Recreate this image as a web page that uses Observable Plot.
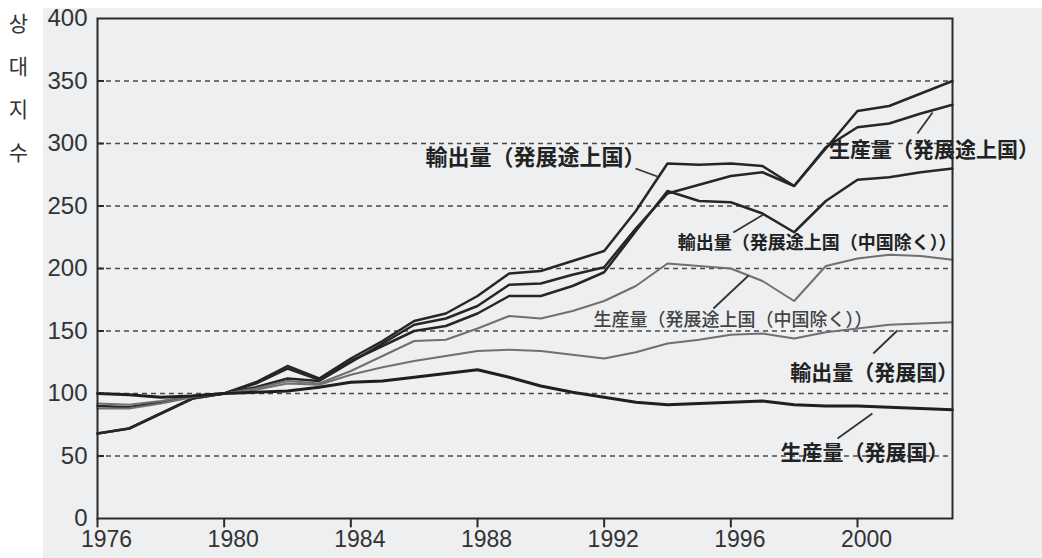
<!DOCTYPE html>
<html>
<head>
<meta charset="utf-8">
<script src="https://cdn.jsdelivr.net/npm/d3@7"></script>
<script src="https://cdn.jsdelivr.net/npm/@observablehq/plot@0.6"></script>
<style>
  html, body { margin: 0; padding: 0; background: #ffffff; }
  #wrap { position: relative; width: 1042px; height: 558px; overflow: hidden; }
  #scan { position: absolute; left: 43px; top: 8px; right: 0; bottom: 0; background: #edeff1; }
  #chart { position: absolute; left: 0; top: 0; }
</style>
</head>
<body>
<div id="wrap"><div id="scan"></div><div id="chart"></div></div>
<script>
// ---- data (relative index, 1980 = 100) ----
const years = [1976,1977,1978,1979,1980,1981,1982,1983,1984,1985,1986,1987,1988,1989,
               1990,1991,1992,1993,1994,1995,1996,1997,1998,1999,2000,2001,2002,2003];

const exportDeveloping =        [68,72,84,96,100,109,122,112,128,142,158,164,178,196,198,206,214,246,284,283,284,282,266,296,326,330,340,350];
const productionDeveloping =    [90,89,93,98,100,105,112,110,125,140,155,160,170,187,188,195,201,232,260,267,274,277,266,297,313,316,324,331];
const exportDevelopingExChina = [68,72,84,96,100,108,120,111,126,138,150,154,164,178,178,186,197,230,262,254,253,244,229,254,271,273,277,280];
const productionDevExChina =    [88,88,92,97,100,104,110,108,118,130,142,143,152,162,160,166,174,186,204,202,200,190,174,202,208,211,210,207];
const exportDeveloped =         [92,91,94,98,100,103,108,107,115,121,126,130,134,135,134,131,128,133,140,143,147,148,144,149,152,155,156,157];
const productionDeveloped =     [100,99,97,98,100,101,102,105,109,110,113,116,119,113,106,101,97,93,91,92,93,94,91,90,90,89,88,87];

const xTicks = [1976,1980,1984,1988,1992,1996,2000];
const yTicks = [0,50,100,150,200,250,300,350,400];
const yTitle = "상\n대\n지\n수";

const seriesNames = [
  "輸出量（発展途上国）",
  "生産量（発展途上国）",
  "輸出量（発展途上国（中国除く））",
  "生産量（発展途上国（中国除く））",
  "輸出量（発展国）",
  "生産量（発展国）"
];
const seriesValues = [exportDeveloping, productionDeveloping, exportDevelopingExChina,
                      productionDevExChina, exportDeveloped, productionDeveloped];

// annotation anchors (data units) for labels and their leader lines
const labelText = seriesNames;
const labelYear  = [1986.36, 1999.1, 1994.32, 1991.66, 1997.88, 1997.57];
const labelValue = [288.8, 294.4, 220, 158.4, 116, 52];
const leaderFrom = [[1992.99,280],[2001.89,308],[1996.08,228.8],[1995.45,168],[2000.5,132],[1999.37,64]];
const leaderTo   = [[1993.68,273.6],[2002.37,324.8],[1997.03,243.2],[1996.56,194.4],[2001.26,150.4],[2000.47,84]];

// ---- styles ----
const styleFor = [
  {stroke: "#262626", w: 2.5},
  {stroke: "#262626", w: 2.5},
  {stroke: "#262626", w: 2.5},
  {stroke: "#707070", w: 2.0},
  {stroke: "#707070", w: 2.0},
  {stroke: "#1f1f1f", w: 3.0}
];
const labelSize = [22, 21, 18, 18, 21, 21];
const labelWeight = [700, 700, 700, 500, 700, 700];
const labelFill = ["#222", "#222", "#222", "#444", "#222", "#222"];

const lineMarks = seriesValues.map((vals, i) =>
  Plot.line(years.map((yr, j) => ({year: yr, value: vals[j]})), {
    x: "year", y: "value", stroke: styleFor[i].stroke, strokeWidth: styleFor[i].w,
    strokeLinejoin: "round", strokeLinecap: "round"
  })
);

const labels = labelText.map((t, i) => ({text: t, year: labelYear[i], value: labelValue[i], i}));
const leaders = leaderFrom.map((f, i) => ({x1: f[0], y1: f[1], x2: leaderTo[i][0], y2: leaderTo[i][1]}));

const plot = Plot.plot({
  width: 1042,
  height: 558,
  marginLeft: 97,
  marginRight: 90,
  marginTop: 18,
  marginBottom: 40,
  style: {
    background: "transparent",
    fontFamily: "'Liberation Sans', Arial, sans-serif",
    fontSize: "24px",
    color: "#333",
    overflow: "visible"
  },
  x: {domain: [1976, 2003], axis: null},
  y: {domain: [0, 400], ticks: yTicks, tickSize: 0, tickPadding: 10, label: null},
  marks: [
    Plot.ruleY(yTicks.filter(v => v > 0 && v < 400), {stroke: "#4a4a4a", strokeWidth: 1.5, strokeDasharray: "5,4"}),
    Plot.ruleY(yTicks.filter(v => v > 0 && v < 400), {x1: 1976, x2: 1976.22, stroke: "#2a2a2a", strokeWidth: 2}),
    Plot.ruleX(xTicks, {y1: 0, y2: -7.5, stroke: "#2a2a2a", strokeWidth: 2}),
    Plot.text(xTicks, {
      x: d => d, text: d => String(d), frameAnchor: "bottom", lineAnchor: "top",
      dy: 12, dx: 9, fontSize: 23, fill: "#333"
    }),
    ...lineMarks,
    Plot.link(leaders, {x1: "x1", y1: "y1", x2: "x2", y2: "y2", stroke: "#333", strokeWidth: 1.8}),
    ...labels.map(d => Plot.text([d], {
      x: "year", y: "value", text: "text", textAnchor: "start",
      fontSize: labelSize[d.i], fontWeight: labelWeight[d.i], fill: labelFill[d.i],
      fontFamily: "'Noto Sans CJK JP', 'Noto Sans CJK SC', sans-serif"
    })),
    Plot.frame({stroke: "#2a2a2a", strokeWidth: 2}),
    Plot.text([yTitle], {
      frameAnchor: "top-left", dx: -79, dy: -18, text: d => d,
      textAnchor: "middle", lineAnchor: "top", lineHeight: 2.05,
      fontSize: 21, fill: "#333", fontFamily: "'Noto Sans CJK KR', sans-serif"
    })
  ]
});
document.getElementById("chart").appendChild(plot);
</script>
</body>
</html>
